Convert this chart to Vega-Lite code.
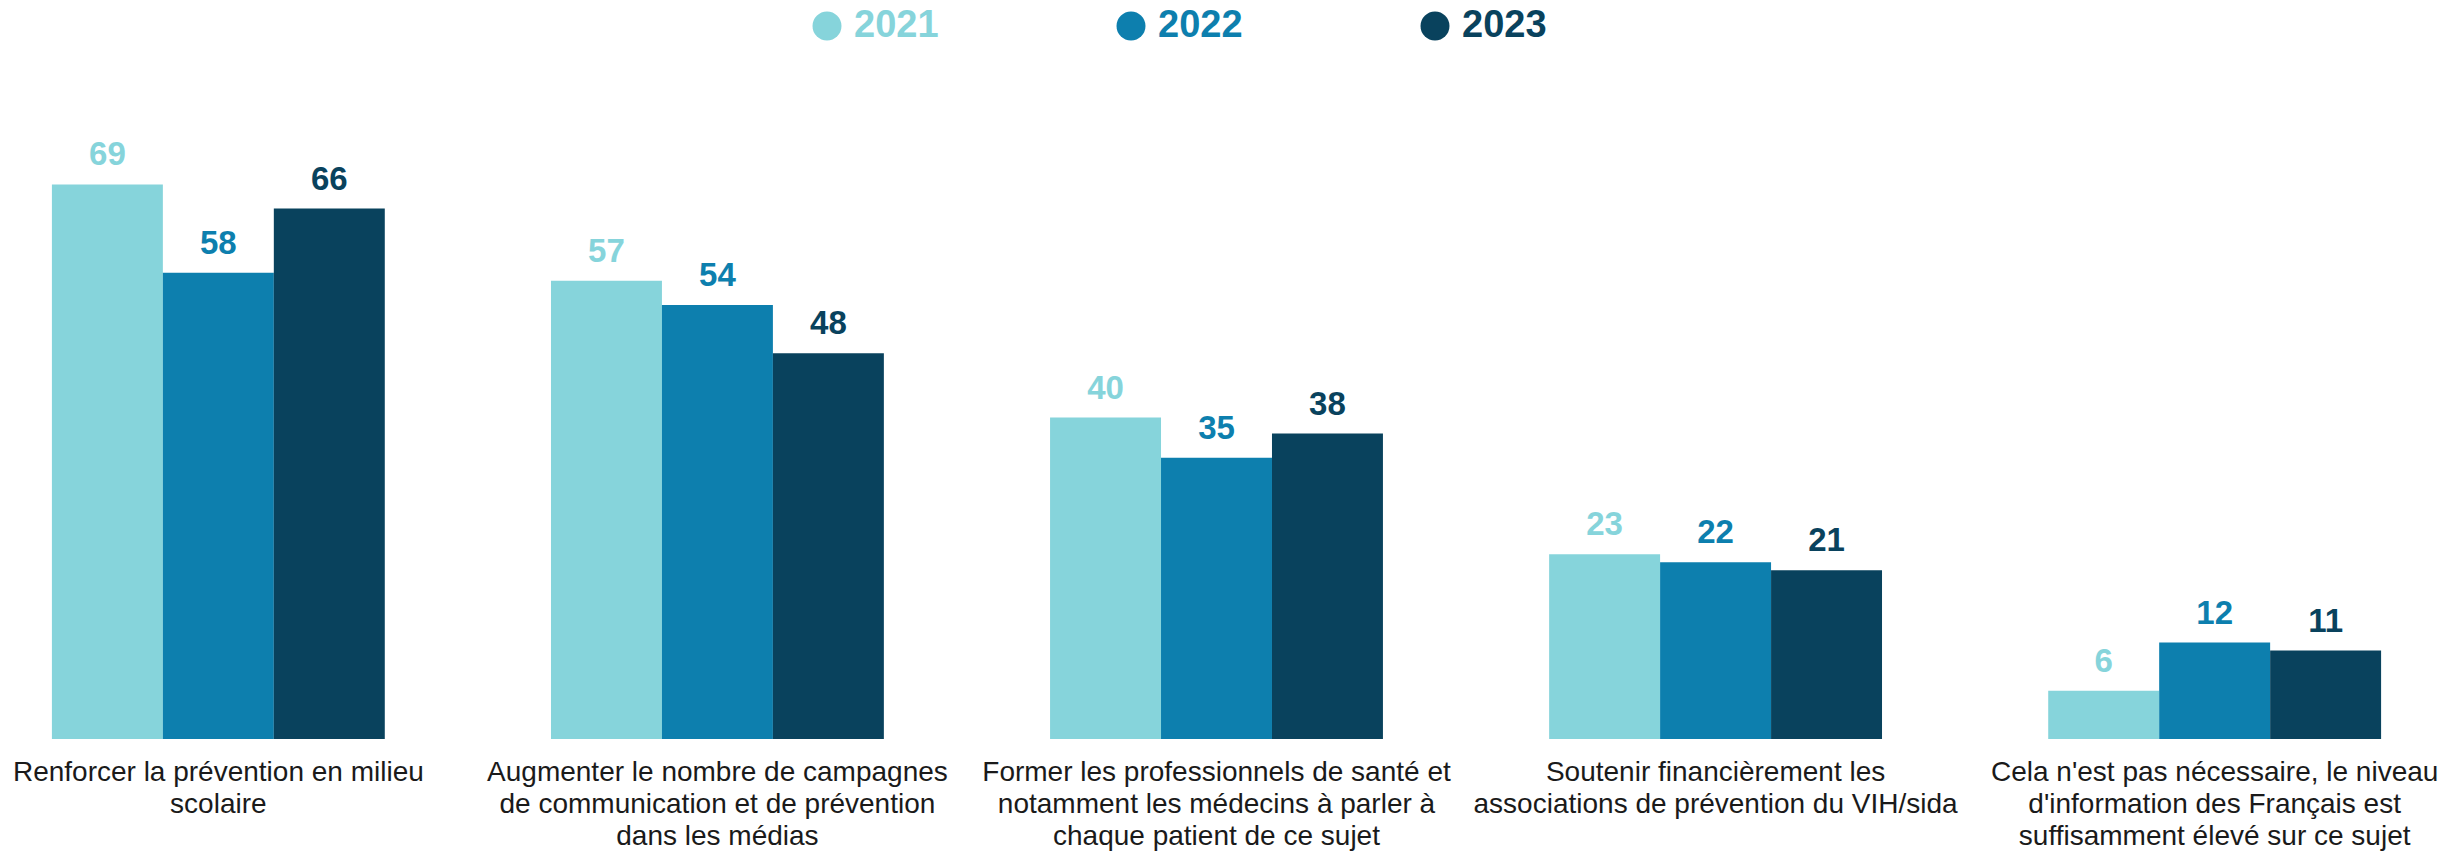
{
  "$schema": "https://vega.github.io/schema/vega-lite/v6.json",
  "autosize": {"type": "none"},
  "padding": {"left": 0, "top": 96, "right": 28, "bottom": 113},
  "width": 2433,
  "height": 643,
  "background": "white",
  "config": {"view": {"stroke": null}, "font": "Liberation Sans"},
  "data": {
    "values": [
      {"cat": "Renforcer la prévention en milieu|scolaire", "order": 1, "year": "2021", "value": 69},
      {"cat": "Renforcer la prévention en milieu|scolaire", "order": 1, "year": "2022", "value": 58},
      {"cat": "Renforcer la prévention en milieu|scolaire", "order": 1, "year": "2023", "value": 66},
      {"cat": "Augmenter le nombre de campagnes|de communication et de prévention|dans les médias", "order": 2, "year": "2021", "value": 57},
      {"cat": "Augmenter le nombre de campagnes|de communication et de prévention|dans les médias", "order": 2, "year": "2022", "value": 54},
      {"cat": "Augmenter le nombre de campagnes|de communication et de prévention|dans les médias", "order": 2, "year": "2023", "value": 48},
      {"cat": "Former les professionnels de santé et|notamment les médecins à parler à|chaque patient de ce sujet", "order": 3, "year": "2021", "value": 40},
      {"cat": "Former les professionnels de santé et|notamment les médecins à parler à|chaque patient de ce sujet", "order": 3, "year": "2022", "value": 35},
      {"cat": "Former les professionnels de santé et|notamment les médecins à parler à|chaque patient de ce sujet", "order": 3, "year": "2023", "value": 38},
      {"cat": "Soutenir financièrement les|associations de prévention du VIH/sida", "order": 4, "year": "2021", "value": 23},
      {"cat": "Soutenir financièrement les|associations de prévention du VIH/sida", "order": 4, "year": "2022", "value": 22},
      {"cat": "Soutenir financièrement les|associations de prévention du VIH/sida", "order": 4, "year": "2023", "value": 21},
      {"cat": "Cela n'est pas nécessaire, le niveau|d'information des Français est|suffisamment élevé sur ce sujet", "order": 5, "year": "2021", "value": 6},
      {"cat": "Cela n'est pas nécessaire, le niveau|d'information des Français est|suffisamment élevé sur ce sujet", "order": 5, "year": "2022", "value": 12},
      {"cat": "Cela n'est pas nécessaire, le niveau|d'information des Français est|suffisamment élevé sur ce sujet", "order": 5, "year": "2023", "value": 11}
    ]
  },
  "encoding": {
    "x": {
      "field": "cat",
      "type": "nominal",
      "sort": {"field": "order"},
      "scale": {"paddingInner": 0.333, "paddingOuter": 0.104},
      "axis": {
        "title": null,
        "domain": false,
        "ticks": false,
        "labelAngle": 0,
        "labelFontSize": 28,
        "labelColor": "#1a1a1a",
        "labelPadding": 19,
        "labelLineHeight": 32,
        "labelBaseline": "top",
        "labelLimit": 0,
        "labelExpr": "split(datum.label, '|')"
      }
    },
    "xOffset": {"field": "year", "type": "nominal", "scale": {"paddingInner": 0, "paddingOuter": 0}},
    "y": {"field": "value", "type": "quantitative", "scale": {"domain": [0, 80]}, "axis": null},
    "color": {
      "field": "year",
      "type": "nominal",
      "scale": {"domain": ["2021", "2022", "2023"], "range": ["#86D4DB", "#0D7FAE", "#09425D"]},
      "legend": {
        "title": null,
        "orient": "none",
        "direction": "horizontal",
        "legendX": 808,
        "legendY": -89,
        "symbolType": "circle",
        "symbolSize": 840,
        "symbolStrokeWidth": 0,
        "labelFontSize": 38,
        "labelFont": "Liberation Sans",
        "labelFontWeight": "bold",
        "labelOffset": 8,
        "columnPadding": 173,
        "encode": {
          "labels": {"update": {"fill": {"scale": "color", "field": "value"}}},
          "symbols": {"update": {"fill": {"signal": "datum.value === '2023' ? '#1D6178' : scale('color', datum.value)"}, "opacity": {"value": 1}}}
        }
      }
    }
  },
  "layer": [
    {"mark": {"type": "bar"}},
    {
      "mark": {"type": "text", "baseline": "bottom", "dy": -12, "fontSize": 33, "fontWeight": "bold"},
      "encoding": {"text": {"field": "value", "type": "quantitative"}}
    }
  ]
}
